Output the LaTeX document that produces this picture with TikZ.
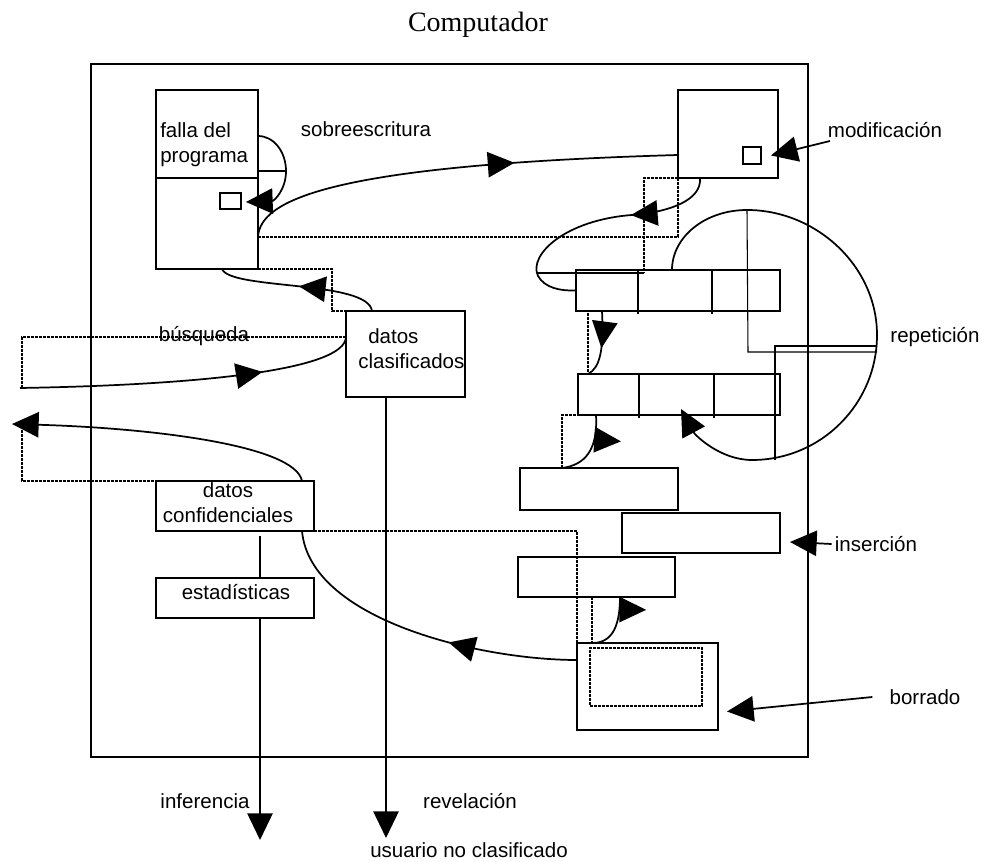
\documentclass[tikz,border=0pt]{standalone}
\usepackage{fontspec}
\setmainfont{Liberation Sans}
\newfontfamily\titlefont{Liberation Serif}
\usetikzlibrary{arrows.meta,decorations.markings,calc}

\tikzset{
  >={Triangle[length=20pt,width=19pt]},
  box/.style={draw,line width=1.1pt,inner sep=0pt,outer sep=0pt,anchor=north west},
  dims/.style 2 args={minimum width=#1*0.75pt,minimum height=#2*0.75pt},
  lbl/.style={font=\fontsize{15.4}{18.75}\selectfont,inner sep=0pt},
  guia/.style={line width=0.9pt,dash pattern=on 2pt off 1pt},
  flow/.style={line width=1.3pt},
  thinline/.style={line width=0.8pt},
  midarrow/.style={postaction={decorate,decoration={markings,
      mark=at position #1 with {\arrow{>}}}}},
  sidearrow/.style 2 args={postaction={decorate,decoration={markings,
      mark=at position #1 with {\pgftransformrotate{#2}\pgftransformxshift{20pt}\arrow{>}}}}},
}

\begin{document}
\begin{tikzpicture}[x=0.75pt,y=-0.75pt]
\useasboundingbox (0,0) rectangle (986,862);

% Frame and title
\node[box, dims={717}{693}] (frame) at (91,64) {};
\node[font=\titlefont\fontsize{21}{25}\selectfont] (title) at (478,25) {Computador};

% Program and its data
\node[box, dims={102}{179}] (falla) at (156,90) {};
\draw[line width=1.1pt] ($(falla.north west)+(0,88)$) -- ($(falla.north east)+(0,88)$);
\node[box, dims={21}{16}] (fallabit) at (220,193) {};
\node[lbl, anchor=north west, align=left] (fallatxt) at (160,122) {falla del\\programa};

\node[box, dims={100}{88}] (modif) at (678,90) {};
\node[box, dims={18}{17}] (modbit) at (743,147) {};

\node[box, dims={119}{86}] (dclas) at (346,311) {};
\node[lbl, anchor=north west, align=left] (dclastxt) at (358,328) {\hspace*{7.5pt}datos\\clasificados};

% Records
\node[box, dims={204}{41}] (row1) at (576,270) {};
\node[box, dims={202}{41}] (row2) at (578,374) {};
\foreach \x in {638,712} {
    \draw[line width=1.1pt] (\x,270) -- (\x,314);
}
\foreach \x in {639,714} {
    \draw[line width=1.1pt] (\x,374) -- (\x,418);
}

\node[box, dims={158}{42}] (boxa) at (520,468) {};
\node[box, dims={158}{40}] (boxins) at (622,513) {};
\node[box, dims={157}{40}] (boxc) at (518,557) {};
\node[box, dims={141}{87}] (borr) at (577,643) {};
\node[box, guia, dims={112}{58}] (borrin) at (590,648) {};

\node[box, dims={158}{50}] (dconf) at (156,481) {};
\node[lbl, align=center] (dconftxt) at (228,503) {datos\\confidenciales};
\node[box, dims={158}{40}] (estad) at (156,578) {};
\node[lbl] (estadtxt) at (236,592) {estadísticas};

% Labels
\node[lbl] (sobrelbl) at (366,129) {sobreescritura};
\node[lbl] (modlbl) at (885,130) {modificación};
\node[lbl] (replbl) at (935,337) {repetición};
\node[lbl] (busqlbl) at (204,336) {búsqueda};
\node[lbl] (inslbl) at (876,544) {inserción};
\node[lbl] (borrlbl) at (925,697) {borrado};
\node[lbl] (inflbl) at (205,801) {inferencia};
\node[lbl] (revlbl) at (470,801) {revelación};
\node[lbl] (usrlbl) at (469,850) {usuario no clasificado};

\coordinate (modfrom) at (830,141);
\coordinate (loopcorner) at (644,273);
\coordinate (leftend) at (12,424);
\coordinate (busqend) at (20,388);
\coordinate (infend) at (260,840);
\coordinate (revend) at (386,838);

% Overwriting
\draw[flow,->] ($(falla.north east)+(0,46)$) .. controls (274,136) and (286,152) .. (286,171)
    .. controls (286,190) and (274,201) .. ($(fallabit.east)+(5,1)$);
\draw[flow] ($(falla.north east)+(0,81)$) -- (286,171);
\draw[guia] ($(falla.south east)+(0,-32)$) -| ($(modif.north west)+(0,65)$);
\draw[flow, midarrow=0.63] ($(falla.south east)+(0,-32)$) .. controls (260,200) and (330,165) .. ($(modif.north west)+(0,65)$);

% Modification
\draw[flow,->] (modfrom) -- ($(modbit.east)+(10,0)$);

% Loop down to the records
\draw[guia] (modif.south west) -| (loopcorner);
\draw[thinline] (loopcorner) -- (537,273);
\draw[flow, midarrow=0.34] ($(modif.south west)+(22,0)$) .. controls (702,200) and (670,212) .. (632,215)
    .. controls (565,220) and (528,255) .. (538,276) .. controls (545,288) and (560,291) .. (row1.west);

% Repetition
\draw[flow,->] ($(row1.north west)+(96,0)$) .. controls (672,237) and (705,210) .. (747,210)
    .. controls (816,210) and (877,266) .. (877,335) .. controls (877,404) and (821,460) .. (752,460)
    .. controls (720,460) and (695,435) .. (681,409);
\draw[thinline] (747,210) -- (748,352) -- (877,352);
\draw[thinline] (877,346) -- (775,346) -- (775,460);

% Between the records
\draw[guia] ($(row1.south west)+(26,0)$) -| ($(row2.north west)+(10,0)$);
\draw[flow, midarrow=0.55] ($(row1.south west)+(26,0)$) .. controls (604,350) and (600,368) .. ($(row2.north west)+(10,0)$);
\draw[guia] ($(row2.south west)+(18,0)$) -| ($(boxa.north west)+(42,0)$);
\draw[flow, sidearrow={0.35}{100}] ($(row2.south west)+(18,0)$) .. controls (598,450) and (585,465) .. ($(boxa.north west)+(42,0)$);
\draw[guia] ($(boxc.south west)+(74,0)$) -- ($(borr.north west)+(15,0)$);
\draw[flow, sidearrow={0.2}{95}] ($(boxc.south west)+(102,0)$) .. controls (620,630) and (610,644) .. ($(borr.north west)+(13,0)$);

% Insertion and deletion
\draw[flow,->] ($(inslbl.west)+(-3,0)$) -- ($(boxins.east)+(10,9)$);
\draw[flow,->] ($(borrlbl.west)+(-17,0)$) -- ($(borr.east)+(9,25)$);

% Deleted data back to the confidential data
\draw[guia] (dconf.south east) -| ($(borr.north west)+(0,17)$);
\draw[flow, midarrow=0.4] ($(borr.north west)+(0,17)$) .. controls (480,660) and (310,620) .. ($(dconf.south west)+(146,0)$);

% Leaks to the left
\draw[guia] ($(dconf.north west)+(146,0)$) -| ($(leftend)+(10,0)$);
\draw[flow,->] ($(dconf.north west)+(146,0)$) .. controls (295,445) and (150,428) .. (leftend);
\draw[guia] ($(dclas.north west)+(0,26)$) -| ($(busqend)+(2,0)$);
\draw[flow, midarrow=0.72] (busqend) .. controls (200,385) and (345,370) .. ($(dclas.north west)+(0,26)$);
\draw[guia] ($(falla.south)+(15,0)$) -| ($(dclas.north west)+(-14,0)$) -- ($(dclas.north west)+(26,0)$);
\draw[flow, midarrow=0.5] ($(dclas.north west)+(26,0)$) .. controls (368,280) and (230,290) .. ($(falla.south)+(15,0)$);

% Outputs to the user
\draw[flow] ($(dconf.south west)+(104,5)$) -- ($(estad.north west)+(104,0)$);
\draw[flow,->] ($(estad.south west)+(104,0)$) -- (infend);
\draw[flow,->] ($(dclas.south west)+(40,0)$) -- (revend);

\end{tikzpicture}
\end{document}
